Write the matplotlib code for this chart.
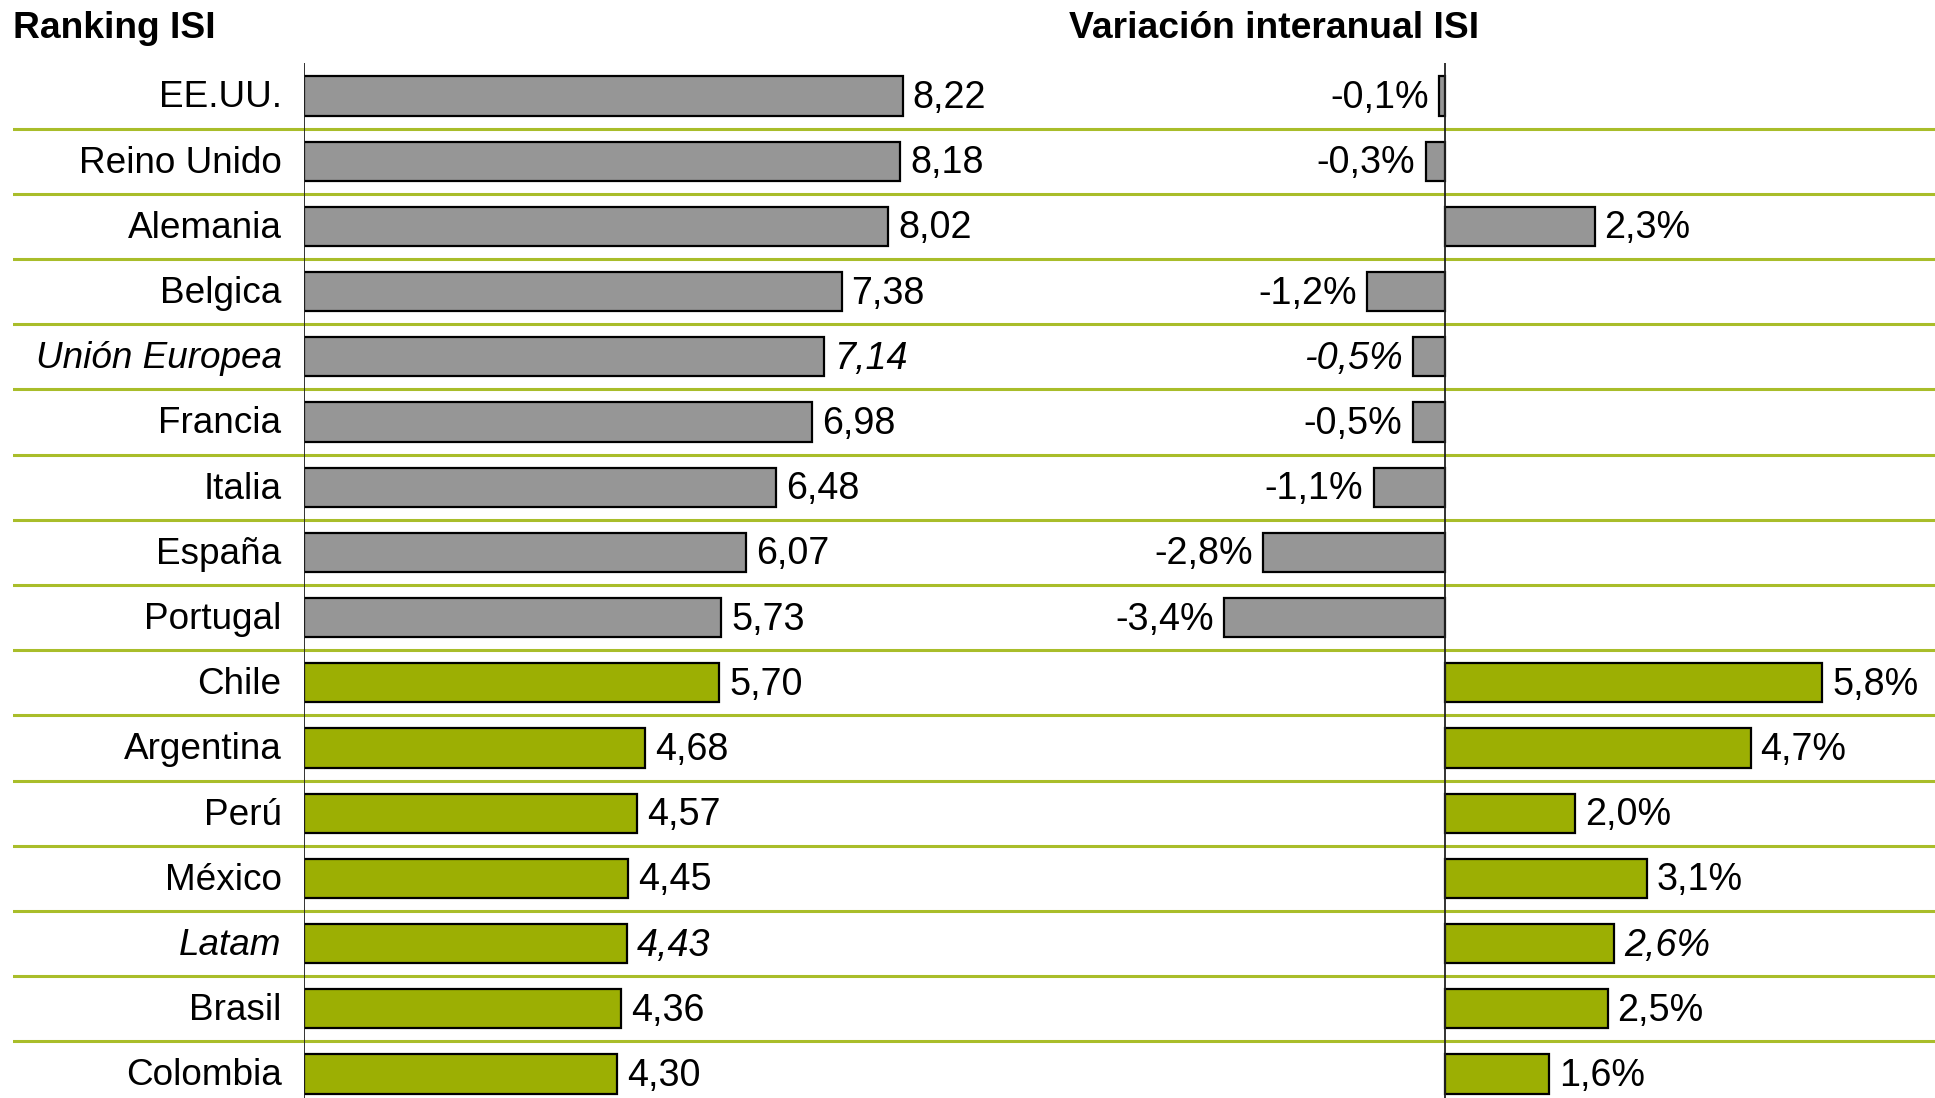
import numpy as np
import matplotlib.pyplot as plt

# -----------------------------
# Data
# -----------------------------
paises = ["EE.UU.", "Reino Unido", "Alemania", "Belgica", "Unión Europea",
          "Francia", "Italia", "España", "Portugal", "Chile", "Argentina",
          "Perú", "México", "Latam", "Brasil", "Colombia"]
isi = [8.22, 8.18, 8.02, 7.38, 7.14, 6.98, 6.48, 6.07, 5.73,
       5.70, 4.68, 4.57, 4.45, 4.43, 4.36, 4.30]
variacion = [-0.1, -0.3, 2.3, -1.2, -0.5, -0.5, -1.1, -2.8, -3.4,
             5.8, 4.7, 2.0, 3.1, 2.6, 2.5, 1.6]
grupo = ["otros"] * 9 + ["latam"] * 7
agregados = ["Unión Europea", "Latam"]

GRIS = "#969696"
VERDE = "#9caf03"
LINEA = "#a9bd2a"
colores = [GRIS if g == "otros" else VERDE for g in grupo]

plt.rcParams["font.family"] = ["Liberation Sans", "DejaVu Sans"]
FS = 26.6      # category labels
FS_VAL = 27.2  # value labels
FS_TIT = 26.8  # titles

# -----------------------------
# Layout (pixels of a 1935x1098 figure)
# -----------------------------
W, H = 1935, 1098
fig = plt.figure(figsize=(W / 100, H / 100), dpi=100)

n = len(paises)
y = np.arange(n)
top_px, row_px = 63.4, 65.2
bot_px = top_px + n * row_px
ax_bottom = (H - bot_px) / H
ax_height = (bot_px - top_px) / H

# background axes for separators
bg = fig.add_axes([13 / W, ax_bottom, 1 - 13 / W, ax_height])
bg.set_ylim(n - 0.5, -0.5)
bg.set_xlim(0, 1)
for k in range(n - 1):
    bg.axhline(k + 0.5, color=LINEA, lw=2.2)
bg.axis("off")

# -----------------------------
# Left: Ranking ISI
# -----------------------------
x0_left, ppu_left = 303.6, 72.9
ax1 = fig.add_axes([x0_left / W, ax_bottom, (1100 - x0_left) / W, ax_height])
ax1.patch.set_alpha(0)
ax1.barh(y, isi, height=0.6, color=colores, edgecolor="black", linewidth=1.6)
ax1.set_xlim(0, (1100 - x0_left) / ppu_left)
ax1.set_ylim(n - 0.5, -0.5)
ax1.axvline(0, color="#222222", lw=1.3)
ax1.axis("off")

for i, (p, v) in enumerate(zip(paises, isi)):
    estilo = "italic" if p in agregados else "normal"
    ax1.text(-22 / ppu_left, i + 0.03, p, ha="right", va="center",
             fontsize=FS, style=estilo)
    ax1.text(v + 10 / ppu_left, i + 0.03, f"{v:.2f}".replace(".", ","),
             ha="left", va="center", fontsize=FS_VAL, style=estilo)

# -----------------------------
# Right: Variación interanual ISI
# -----------------------------
x0_right, ppu_right = 1445, 65.0
ax2 = fig.add_axes([1100 / W, ax_bottom, (W - 1100) / W, ax_height])
ax2.patch.set_alpha(0)
ax2.barh(y, variacion, height=0.6, color=colores, edgecolor="black",
         linewidth=1.6)
ax2.set_xlim(-(x0_right - 1100) / ppu_right, (W - x0_right) / ppu_right)
ax2.set_ylim(n - 0.5, -0.5)
ax2.axvline(0, color="#222222", lw=1.3)
ax2.axis("off")

for i, (p, v) in enumerate(zip(paises, variacion)):
    estilo = "italic" if p in agregados else "normal"
    txt = f"{v:.1f}%".replace(".", ",")
    off = 10 / ppu_right
    if v < 0:
        ax2.text(v - off, i + 0.03, txt, ha="right", va="center",
                 fontsize=FS_VAL, style=estilo)
    else:
        ax2.text(v + off, i + 0.03, txt, ha="left", va="center",
                 fontsize=FS_VAL, style=estilo)

# -----------------------------
# Titles
# -----------------------------
fig.text(13 / W, 1 - 29 / H, "Ranking ISI", ha="left", va="center",
         fontsize=FS_TIT, fontweight="bold")
fig.text(1069 / W, 1 - 29 / H, "Variación interanual ISI", ha="left",
         va="center", fontsize=FS_TIT, fontweight="bold")

fig.savefig("out.png", dpi=100)
